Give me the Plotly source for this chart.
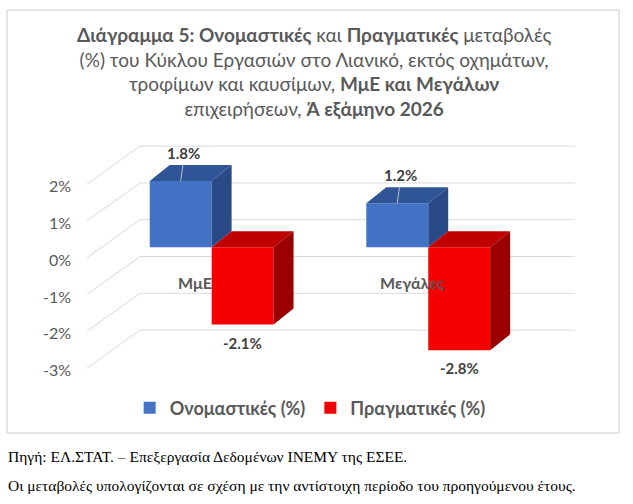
import plotly.graph_objects as go

categories = ["ΜμΕ", "Μεγάλες"]
nominal = [1.8, 1.2]
real = [-2.1, -2.8]
series_names = ["Ονομαστικές (%)", "Πραγματικές (%)"]
tick_values = [2, 1, 0, -1, -2, -3]
tick_labels = ["2%", "1%", "0%", "-1%", "-2%", "-3%"]

title_text = (
    "<b>Διάγραμμα 5: Ονομαστικές</b> και <b>Πραγματικές</b> μεταβολές<br>"
    "(%) του Κύκλου Εργασιών στο Λιανικό, εκτός οχημάτων,<br>"
    "τροφίμων και καυσίμων, <b>ΜμΕ και Μεγάλων</b><br>"
    "επιχειρήσεων, <b>Ά εξάμηνο 2026</b>"
)
source_note = "Πηγή: ΕΛ.ΣΤΑΤ. – Επεξεργασία Δεδομένων ΙΝΕΜΥ της ΕΣΕΕ."
change_note = "Οι μεταβολές υπολογίζονται σε σχέση με την αντίστοιχη περίοδο του προηγούμενου έτους."

FONT = "Lato, 'Open Sans', sans-serif"
SERIF = "'Liberation Serif', serif"
GREY = "#595959"
W, H = 633, 504
L, R, T, B = 80, 33, 140, 114          # plot area margins (px)
X_RANGE = [-0.608, 1.793]
Y_RANGE = [-3.878, 2.916]

BAR_W = 0.286                          # bar width in category units
DX, DY = 0.092, 0.435                  # 3D depth offset of the bars
BACK = 0.75                            # back wall grid shift
LABEL = -0.35                          # front tick label shift

colors = {
    0: dict(front="#4472C4", top="#2F5597", side="#294A86"),
    1: dict(front="#F40000", top="#C00000", side="#9A0000"),
}

x_idx = list(range(len(categories)))


def paper_x(px):
    return (px - L) / (W - L - R)


def paper_y(py):
    return (H - B - py) / (H - T - B)


fig = go.Figure()
shapes = []
annotations = []

# back wall grid + left floor diagonals
for v in tick_values:
    yb = v + BACK
    shapes.append(dict(type="line", xref="x", yref="y", x0=-0.331, x1=1.677,
                       y0=yb, y1=yb, line=dict(color="#D9D9D9", width=1), layer="below"))
    shapes.append(dict(type="line", xref="x", yref="y", x0=-0.331, x1=-0.576,
                       y0=yb, y1=yb - 1.033, line=dict(color="#D9D9D9", width=1), layer="below"))

series = [nominal, real]
offsets = [-BAR_W, 0]
for s, (vals, name) in enumerate(zip(series, series_names)):
    fig.add_trace(go.Bar(
        x=x_idx, y=vals, name=name, offset=offsets[s], width=BAR_W,
        marker=dict(color=colors[s]["front"], line=dict(width=0)),
        hoverinfo="skip",
    ))

for i in x_idx:
    for s, vals in enumerate(series):
        v = vals[i]
        x0 = i + offsets[s]
        x1 = x0 + BAR_W
        b, t = min(0, v), max(0, v)
        top = f"M{x0},{t} L{x1},{t} L{x1 + DX},{t + DY} L{x0 + DX},{t + DY} Z"
        side = f"M{x1},{b} L{x1},{t} L{x1 + DX},{t + DY} L{x1 + DX},{b + DY} Z"
        shapes.append(dict(type="path", xref="x", yref="y", path=top,
                           fillcolor=colors[s]["top"], line=dict(width=0), layer="above"))
        shapes.append(dict(type="path", xref="x", yref="y", path=side,
                           fillcolor=colors[s]["side"], line=dict(width=0), layer="above"))
        xc = x0 + BAR_W / 2
        if v > 0:
            shapes.append(dict(type="line", xref="x", yref="y", x0=xc, x1=xc + 0.01,
                               y0=v, y1=v + DY, line=dict(color="#BFBFBF", width=1), layer="above"))
        annotations.append(dict(
            x=xc, y=v, xref="x", yref="y", text=f"<b>{v:.1f}%</b>", showarrow=False,
            yshift=28 if v > 0 else -18, xshift=3 if v > 0 else 0,
            font=dict(family=FONT, size=15, color="#404040"),
        ))
    annotations.append(dict(
        x=i - 0.075, y=-0.97, xref="x", yref="y", text=f"<b>{categories[i]}</b>",
        showarrow=False, font=dict(family=FONT, size=16, color=GREY),
    ))

# chart border
shapes.append(dict(type="rect", xref="paper", yref="paper",
                   x0=paper_x(7), x1=paper_x(619), y0=paper_y(433), y1=paper_y(10),
                   line=dict(color="#CCCCCC", width=1), layer="below"))

annotations.append(dict(x=paper_x(314), y=paper_y(21), xref="paper", yref="paper",
                        xanchor="center", yanchor="top", text=title_text, showarrow=False,
                        font=dict(family=FONT, size=19, color=GREY)))
annotations.append(dict(x=paper_x(6), y=paper_y(456), xref="paper", yref="paper",
                        xanchor="left", yanchor="middle", text=source_note, showarrow=False,
                        font=dict(family=SERIF, size=15.5, color="#000000")))
annotations.append(dict(x=paper_x(6), y=paper_y(485), xref="paper", yref="paper",
                        xanchor="left", yanchor="middle", text=change_note, showarrow=False,
                        font=dict(family=SERIF, size=15.5, color="#000000")))

fig.update_layout(
    width=W, height=H,
    margin=dict(l=L, r=R, t=T, b=B, autoexpand=False),
    paper_bgcolor="white", plot_bgcolor="white",
    barmode="overlay",
    xaxis=dict(range=X_RANGE, showgrid=False, zeroline=False, showline=False,
               showticklabels=False, fixedrange=True),
    yaxis=dict(range=Y_RANGE, showgrid=False, zeroline=False, showline=False,
               tickvals=[v + LABEL for v in tick_values], ticktext=tick_labels,
               ticklabelstandoff=8, tickfont=dict(family=FONT, size=16, color=GREY),
               fixedrange=True),
    legend=dict(orientation="h", xref="container", yref="container",
                x=0.49, xanchor="center", y=1 - 408 / H, yanchor="middle",
                font=dict(family=FONT, size=18, color=GREY, weight="bold")),
    shapes=shapes,
    annotations=annotations,
)

fig.write_html("out.html", config={"displayModeBar": False},
               post_script="document.body.style.margin='0';")
